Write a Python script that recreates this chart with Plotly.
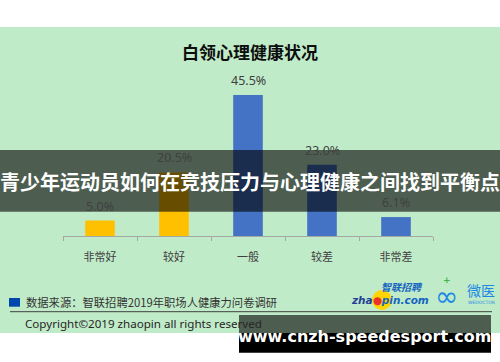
import plotly.graph_objects as go

W, H = 500, 362

categories = ["非常好", "较好", "一般", "较差", "非常差"]
values = [5.0, 20.5, 45.5, 23.0, 6.1]
bar_colors = ["#ffc000", "#ffc000", "#4472c4", "#4472c4", "#4472c4"]
value_labels = ["5.0%", "20.5%", "45.5%", "23.0%", "6.1%"]

title_text = "白领心理健康状况"
overlay_text = "青少年运动员如何在竞技压力与心理健康之间找到平衡点"
source_text = "数据来源：智联招聘2019年职场人健康力问卷调研"
copyright_text = "Copyright©2019 zhaopin all rights reserved"
site_text = "www.cnzh-speedesport.com"

CJK = "Noto Sans CJK SC"
GREEN = "#c0ebc8"


def py(p):
    return 1 - p / H


def px(p):
    return p / W


fig = go.Figure()
fig.add_trace(go.Bar(
    x=categories, y=values, marker=dict(color=bar_colors, line=dict(width=0)),
    width=0.4, hoverinfo="skip", showlegend=False,
))

shapes = []
shapes.append(dict(type="rect", xref="paper", yref="paper", x0=0, x1=1,
                   y0=py(333), y1=py(27), fillcolor=GREEN, line=dict(width=0), layer="below"))
shapes.append(dict(type="line", xref="paper", yref="paper", x0=px(10), x1=px(492),
                   y0=py(311.7), y1=py(311.7), line=dict(color="#404040", width=1)))
shapes.append(dict(type="rect", xref="paper", yref="paper", x0=px(9), x1=px(20),
                   y0=py(306.7), y1=py(298), fillcolor="#0047ab", line=dict(width=0)))
shapes.append(dict(type="circle", xref="paper", yref="paper", x0=px(372), x1=px(392),
                   y0=py(310), y1=py(290), fillcolor="#ffd500", line=dict(width=0), layer="below"))
shapes.append(dict(type="rect", xref="paper", yref="paper", x0=0, x1=1,
                   y0=py(211.7), y1=py(150), fillcolor="rgba(0,0,0,0.6)", line=dict(width=0), layer="above"))
shapes.append(dict(type="rect", xref="paper", yref="paper", x0=px(239), x1=px(491),
                   y0=py(333), y1=py(315), fillcolor="rgba(0,0,0,0.6)", line=dict(width=0), layer="above"))
shapes.append(dict(type="rect", xref="paper", yref="paper", x0=px(239), x1=px(491),
                   y0=py(352.7), y1=py(333), fillcolor="#000000", line=dict(width=0), layer="above"))


def ann(x, y, text, size, color, family=CJK, xanchor="center", yanchor="middle", **kw):
    d = dict(x=x, y=y, xref="paper", yref="paper", text=text, showarrow=False,
             xanchor=xanchor, yanchor=yanchor, font=dict(family=family, size=size, color=color))
    d.update(kw)
    return d


annotations = []
for c, v, t in zip(categories, values, value_labels):
    annotations.append(dict(x=c, y=v, xref="x", yref="y", text=t, showarrow=False,
                            xanchor="center", yanchor="bottom", yshift=4,
                            font=dict(family="Noto Sans", size=12.5, color="#404040")))
annotations.append(ann(0.5, py(52), "<b>" + title_text + "</b>", 17, "#0d0d0d"))
annotations.append(ann(px(24), py(301.7), source_text, 11.3, "#333333", xanchor="left"))
annotations.append(ann(px(23), py(323.5), copyright_text, 11.6, "#262626", family="Noto Sans", xanchor="left"))
# zhaopin logo (text approximation)
annotations.append(ann(px(349), py(299.5), "<b><i><span style='color:#1f3f94'>zha</span>"
                       "<span style='color:#e8322a'>●</span>pin.com</i></b>",
                       10.5, "#1565c0", family="DejaVu Sans", xanchor="left"))
annotations.append(ann(px(402), py(286), "<b><i>智联招聘</i></b>", 10, "#1565c0"))
# wedoctor logo (text approximation)
annotations.append(ann(px(446), py(296), "∞", 28, "#1e88e5", family="DejaVu Sans"))
annotations.append(ann(px(447), py(280), "<b>+</b>", 9, "#3cb44b", family="DejaVu Sans"))
annotations.append(ann(px(481), py(289.5), "微医", 14, "#1e88e5"))
annotations.append(ann(px(481), py(302), "WEDOCTOR", 4.5, "#1e88e5", family="DejaVu Sans"))
# overlay texts
annotations.append(ann(0.5, py(181), "<b>" + overlay_text + "</b>", 20, "#ffffff"))
annotations.append(ann(px(364), py(336.5), "<b>" + site_text + "</b>", 16, "#ffffff", family="DejaVu Sans"))

fig.update_layout(
    width=W, height=H, margin=dict(l=0, r=0, t=0, b=0, autoexpand=False),
    paper_bgcolor="#ffffff", plot_bgcolor="rgba(0,0,0,0)",
    shapes=shapes, annotations=annotations,
    xaxis=dict(domain=[px(63), px(433)], showgrid=False, showline=True, linecolor="#a6a6a6",
               linewidth=1, ticks="outside", tickson="boundaries", ticklen=4, tickcolor="#a6a6a6",
               ticklabelstandoff=11, automargin=False,
               tickfont=dict(family=CJK, size=11, color="#404040"), fixedrange=True),
    yaxis=dict(domain=[py(236), py(81)], range=[0, 50], visible=False, showgrid=False,
               fixedrange=True, automargin=False),
)

fig.write_html("out.html", config={"displayModeBar": False},
               post_script="document.body.style.margin='0';document.body.style.overflow='hidden';")
